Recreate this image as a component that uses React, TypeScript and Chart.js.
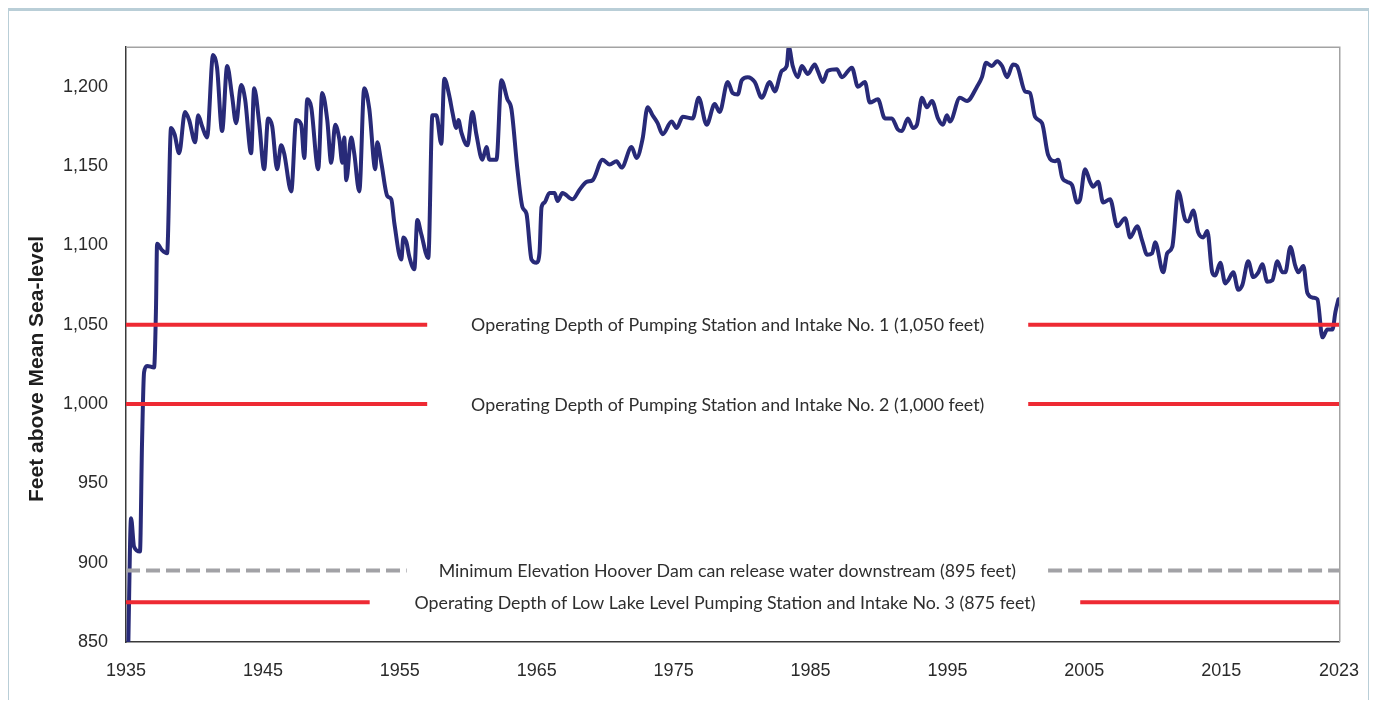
import React, { useEffect, useRef } from "react";
import { Chart, registerables } from "chart.js";

Chart.register(...registerables);

// ---- Data (Lake Mead surface elevation, feet above mean sea level) ----
const levelYears = [
  1935.15, 1935.37, 1935.59, 1936.02, 1936.17, 1936.32, 1936.54, 1937.05, 1937.19, 1937.27,
  1937.63, 1938.0, 1938.29, 1938.55, 1938.88, 1939.31, 1939.61, 1940.05, 1940.27, 1940.56,
  1940.92, 1941.36, 1941.65, 1942.02, 1942.39, 1942.75, 1943.04, 1943.41, 1943.7, 1944.14,
  1944.36, 1944.73, 1945.09, 1945.38, 1945.68, 1946.04, 1946.33, 1946.55, 1947.07, 1947.43,
  1947.8, 1948.02, 1948.24, 1948.53, 1949.04, 1949.33, 1949.7, 1949.99, 1950.28, 1950.58,
  1950.8, 1950.94, 1951.09, 1951.45, 1951.67, 1952.04, 1952.4, 1952.77, 1953.21, 1953.35,
  1953.65, 1954.09, 1954.38, 1954.6, 1955.11, 1955.26, 1955.48, 1955.69, 1956.06, 1956.28,
  1956.57, 1957.08, 1957.38, 1957.67, 1958.03, 1958.25, 1958.62, 1958.84, 1959.13, 1959.28,
  1959.5, 1959.94, 1960.3, 1960.59, 1961.03, 1961.33, 1961.54, 1962.06, 1962.42, 1962.86,
  1963.15, 1963.59, 1963.96, 1964.25, 1964.62, 1964.98, 1965.2, 1965.35, 1965.57, 1965.93,
  1966.3, 1966.52, 1966.88, 1967.61, 1968.13, 1968.64, 1969.08, 1969.81, 1970.32, 1970.83,
  1971.2, 1971.93, 1972.29, 1972.73, 1973.1, 1973.46, 1973.83, 1974.2, 1974.85, 1975.22,
  1975.66, 1976.39, 1976.83, 1977.41, 1978.0, 1978.36, 1978.95, 1979.31, 1979.68, 1979.97,
  1980.41, 1980.92, 1981.44, 1982.02, 1982.39, 1982.9, 1983.26, 1983.41, 1983.7, 1984.07,
  1984.36, 1984.8, 1985.31, 1985.53, 1985.9, 1986.26, 1986.92, 1987.29, 1988.02, 1988.46,
  1988.97, 1989.33, 1989.92, 1990.43, 1990.94, 1991.38, 1991.67, 1992.11, 1992.48, 1992.77,
  1993.14, 1993.5, 1993.87, 1994.31, 1994.67, 1994.96, 1995.18, 1995.91, 1996.43, 1997.16,
  1997.52, 1997.82, 1998.25, 1998.62, 1998.99, 1999.35, 1999.79, 2000.08, 2000.67, 2001.03,
  2001.4, 2001.91, 2002.35, 2002.86, 2003.08, 2003.37, 2003.74, 2004.1, 2004.47, 2004.69,
  2005.05, 2005.42, 2005.64, 2006.01, 2006.37, 2006.88, 2007.4, 2007.98, 2008.35, 2008.86,
  2009.22, 2009.59, 2009.95, 2010.17, 2010.76, 2011.05, 2011.42, 2011.86, 2012.37, 2012.59,
  2012.95, 2013.32, 2013.68, 2013.98, 2014.34, 2014.56, 2014.93, 2015.29, 2015.51, 2015.88,
  2016.24, 2016.54, 2016.97, 2017.34, 2017.71, 2018.0, 2018.36, 2018.73, 2019.1, 2019.46,
  2019.68, 2020.05, 2020.41, 2020.63, 2021.0, 2021.29, 2021.73, 2022.02, 2022.39, 2022.75,
  2023.12, 2023.34, 2023.56,
];

const levelFeet = [
  840, 928, 910, 907, 975, 1020, 1024, 1023, 1060, 1101,
  1097, 1095, 1174, 1170, 1158, 1184, 1179, 1165, 1182, 1175,
  1168, 1220, 1212, 1172, 1213, 1194, 1177, 1201, 1192, 1158,
  1199, 1177, 1148, 1180, 1175, 1148, 1163, 1158, 1134, 1179,
  1176, 1155, 1192, 1187, 1148, 1196, 1179, 1152, 1176, 1167,
  1152, 1168, 1141, 1168, 1158, 1134, 1199, 1186, 1148, 1165,
  1152, 1131, 1129, 1114, 1091, 1105, 1102, 1093, 1085, 1116,
  1107, 1092, 1182, 1182, 1164, 1205, 1194, 1184, 1174, 1179,
  1171, 1163, 1184, 1170, 1154, 1162, 1154, 1154, 1204, 1192,
  1186, 1148, 1124, 1120, 1091, 1089, 1095, 1124, 1127, 1133,
  1133, 1128, 1133, 1129, 1135, 1140, 1141, 1154, 1151, 1153,
  1149, 1162, 1155, 1167, 1187, 1182, 1177, 1170, 1178, 1174,
  1181, 1180, 1193, 1176, 1189, 1184, 1203, 1196, 1195, 1204,
  1206, 1203, 1193, 1203, 1197, 1210, 1213, 1225, 1213, 1206,
  1213, 1208, 1214, 1210, 1203, 1210, 1211, 1206, 1212, 1200,
  1203, 1190, 1192, 1180, 1180, 1173, 1172, 1180, 1174, 1176,
  1193, 1187, 1191, 1180, 1176, 1182, 1178, 1193, 1191, 1200,
  1206, 1215, 1213, 1216, 1213, 1206, 1214, 1213, 1197, 1196,
  1181, 1177, 1157, 1153, 1154, 1143, 1140, 1138, 1127, 1129,
  1148, 1140, 1137, 1140, 1127, 1129, 1112, 1117, 1105, 1112,
  1103, 1094, 1095, 1102, 1083, 1095, 1099, 1134, 1116, 1115,
  1122, 1108, 1105, 1109, 1083, 1081, 1089, 1076, 1078, 1083,
  1072, 1075, 1090, 1080, 1083, 1088, 1077, 1078, 1090, 1083,
  1083, 1099, 1087, 1083, 1087, 1070, 1067, 1066, 1042, 1047,
  1047, 1058, 1066,
];

// ---- Axes ----
const xAxisMin = 1935;
const xAxisMax = 2023.6;
const xTickYears = [1935, 1945, 1955, 1965, 1975, 1985, 1995, 2005, 2015, 2023];
const yAxisMin = 850;
const yAxisMax = 1225;
const yTickValues = [850, 900, 950, 1000, 1050, 1100, 1150, 1200];
const yAxisTitle = "Feet above Mean Sea-level";

// ---- Reference levels ----
const refLevels = [1050, 1000, 895, 875];
const refLabels = [
  "Operating Depth of Pumping Station and Intake No. 1 (1,050 feet)",
  "Operating Depth of Pumping Station and Intake No. 2 (1,000 feet)",
  "Minimum Elevation Hoover Dam can release water downstream (895 feet)",
  "Operating Depth of Low Lake Level Pumping Station and Intake No. 3 (875 feet)",
];
const refGapStart = [1957.0, 1957.0, 1955.5, 1952.8];
const refGapEnd = [2000.9, 2000.9, 2002.35, 2004.7];
const refDashed = [false, false, true, false];

const NAVY = "#282a78";
const RED = "#ee2a33";
const GREY_DASH = "#a2a2a6";
const LABEL_FONT = '17.8px Lato, "Open Sans", sans-serif';
const TITLE_FONT = 'bold 21px "Liberation Sans", Arial, sans-serif';

const overlayPlugin = {
  id: "overlay",
  afterDatasetsDraw(chart: any) {
    const { ctx, chartArea, scales } = chart;
    ctx.save();
    // top & right frame of the plot area
    ctx.strokeStyle = "#a3a3a3";
    ctx.lineWidth = 1.5;
    ctx.beginPath();
    ctx.moveTo(chartArea.left, chartArea.top + 0.25);
    ctx.lineTo(chartArea.right + 0.75, chartArea.top + 0.25);
    ctx.lineTo(chartArea.right + 0.75, chartArea.bottom);
    ctx.stroke();
    // reference labels
    ctx.font = LABEL_FONT;
    ctx.fillStyle = "#2e2e2e";
    ctx.textAlign = "center";
    ctx.textBaseline = "middle";
    refLabels.forEach((t, i) => {
      const x = scales.x.getPixelForValue((refGapStart[i] + refGapEnd[i]) / 2);
      const y = scales.y.getPixelForValue(refLevels[i]);
      ctx.fillText(t, x, y + 1);
    });
    // y-axis title (rotated)
    const ty = chartArea.top + (chartArea.bottom - chartArea.top) * 0.541;
    ctx.translate(scales.y.left + 29, ty);
    ctx.rotate(-Math.PI / 2);
    ctx.font = TITLE_FONT;
    ctx.fillStyle = "#1e1e1e";
    ctx.fillText(yAxisTitle, 0, 0);
    ctx.restore();
  },
};

export default function App() {
  const canvasRef = useRef<HTMLCanvasElement | null>(null);

  useEffect(() => {
    document.documentElement.style.overflow = "hidden";
    const canvas = canvasRef.current;
    if (!canvas) return;

    const levelData = levelYears.map((yr, i) => ({ x: yr, y: levelFeet[i] }));

    const refDatasets = refLevels.map((lvl, i) => ({
      label: refLabels[i],
      data: [
        { x: xAxisMin, y: lvl },
        { x: refGapStart[i], y: lvl },
        { x: (refGapStart[i] + refGapEnd[i]) / 2, y: null },
        { x: refGapEnd[i], y: lvl },
        { x: xAxisMax, y: lvl },
      ],
      borderColor: refDashed[i] ? GREY_DASH : RED,
      borderWidth: 4,
      borderDash: refDashed[i] ? [14, 6] : [],
      pointRadius: 0,
      spanGaps: false,
      tension: 0,
      order: 1,
      clip: 4,
    }));

    const chart = new Chart(canvas, {
      type: "line",
      data: {
        datasets: [
          {
            label: "Lake level",
            data: levelData,
            borderColor: NAVY,
            borderWidth: 4,
            pointRadius: 0,
            cubicInterpolationMode: "monotone",
            borderJoinStyle: "round",
            borderCapStyle: "round",
            order: 2,
          },
          ...refDatasets,
        ] as any,
      },
      options: {
        responsive: false,
        animation: false,
        devicePixelRatio: 1,
        layout: { padding: { top: 39, right: 30, bottom: 0, left: 0 } },
        plugins: {
          legend: { display: false },
          tooltip: { enabled: false },
        },
        scales: {
          x: {
            type: "linear",
            min: xAxisMin,
            max: xAxisMax,
            grid: { display: false, drawTicks: false },
            border: { display: true, color: "#3a3a3a", width: 1.5 },
            afterBuildTicks: (scale: any) => {
              scale.ticks = xTickYears.map((yr, i) => ({
                value: i === xTickYears.length - 1 ? xAxisMax : yr,
              }));
            },
            afterFit: (scale: any) => {
              scale.height = 66;
              scale.paddingLeft = 0;
              scale.paddingRight = 0;
            },
            ticks: {
              autoSkip: false,
              maxRotation: 0,
              padding: 18,
              color: "#2a2a2a",
              font: { family: '"Liberation Sans", Arial, sans-serif', size: 18 },
              callback: (_v: any, i: number) => String(xTickYears[i]),
            },
          },
          y: {
            type: "linear",
            min: yAxisMin,
            max: yAxisMax,
            grid: { display: false, drawTicks: false },
            border: { display: true, color: "#3a3a3a", width: 1.5 },
            afterBuildTicks: (scale: any) => {
              scale.ticks = yTickValues.map((v) => ({ value: v }));
            },
            afterFit: (scale: any) => {
              scale.width = 118;
              scale.paddingTop = 0;
              scale.paddingBottom = 0;
            },
            ticks: {
              padding: 18,
              color: "#2a2a2a",
              font: { family: '"Liberation Sans", Arial, sans-serif', size: 18 },
              callback: (v: any) => Number(v).toLocaleString("en-US"),
            },
            title: { display: false },
          },
        },
      },
      plugins: [overlayPlugin],
    });

    return () => chart.destroy();
  }, []);

  return (
    <div style={{ position: "relative", width: 1361, height: 692 }}>
      <div
        style={{
          position: "absolute",
          left: -2,
          top: 0,
          width: 1365,
          height: 700,
          boxSizing: "border-box",
          borderTop: "3px solid #b9ced7",
          borderLeft: "3px solid #b9ced7",
          borderRight: "3px solid #b9ced7",
        }}
      />
      <canvas
        ref={canvasRef}
        width={1361}
        height={700}
        style={{ position: "absolute", left: 0, top: 0 }}
      />
    </div>
  );
}
